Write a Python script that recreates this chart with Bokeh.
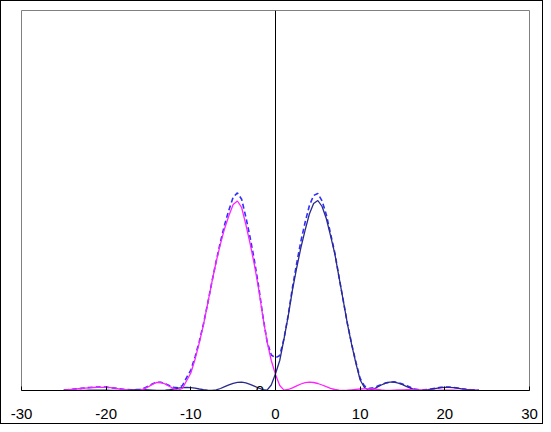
import numpy as np
from bokeh.plotting import figure
from bokeh.models import Range1d, Span, Label, FixedTicker, ColumnDataSource, InlineStyleSheet
from bokeh.embed import file_html
from bokeh.resources import INLINE

# sample positions
x_vals = np.arange(-25, 24.01, 0.5)

# left-shifted component (magenta)
left_wave = [
    0.5, 0.8, 1.2, 1.6, 2.0, 2.4, 2.7, 3.0, 3.1, 3.2,
    3.1, 2.8, 2.3, 1.7, 1.1, 0.6, 0.2, 0.1, 0.4, 1.6,
    3.8, 6.4, 8.2, 8.0, 6.4, 4.0, 1.8, 0.4, 2.0, 9.8,
    17.5, 31.3, 47.6, 66.1, 87.2, 109, 129, 146.7, 162.3, 175,
    186, 189.5, 183, 165.8, 147, 126, 102, 74, 49, 30,
    16, 5, 0.4, 1.0, 2.6, 4.6, 6.5, 7.8, 8.3, 8.0,
    7.0, 5.5, 3.8, 2.2, 1.0, 0.3, 0.1, 0.3, 0.7, 1.1,
    1.5, 1.7, 1.7, 1.5, 1.1, 0.6, 0.2, 0.1, 0.3, 0.5,
    0.7, 0.8, 0.8, 0.7, 0.5, 0.3, 0.1, 0.1, 0.2, 0.3,
    0.4, 0.4, 0.3, 0.2, 0.1, 0.1, 0.1, 0.1, 0.1,
]

# right-shifted component (navy)
right_wave = [
    0.1, 0.1, 0.1, 0.1, 0.1, 0.2, 0.3, 0.4, 0.4, 0.4,
    0.3, 0.2, 0.1, 0.1, 0.2, 0.4, 0.6, 0.8, 0.9, 0.8,
    0.6, 0.4, 0.2, 0.1, 0.3, 0.8, 1.5, 2.3, 2.9, 3.1,
    2.9, 2.3, 1.5, 0.8, 0.3, 0.1, 0.6, 2.0, 3.8, 5.6,
    7.2, 8.1, 8.3, 7.6, 6.2, 4.4, 2.5, 0.9, 0.3, 5.5,
    16.7, 30, 51.4, 74.3, 100.3, 122.5, 142.9, 160.4, 176.5, 187,
    190, 184, 172, 154.8, 136.9, 113.4, 90, 66.4, 45.6, 27.2,
    10.5, 3, 0.3, 1.2, 3.2, 5.5, 7.3, 8.3, 8.3, 7.4,
    5.8, 3.9, 2.1, 0.8, 0.2, 0.3, 0.8, 1.5, 2.2, 2.8,
    3.1, 3.1, 2.8, 2.3, 1.7, 1.2, 0.8, 0.5, 0.3,
]

# total (dashed blue)
total_wave = [
    0.6, 0.9, 1.3, 1.7, 2.1, 2.6, 3.0, 3.4, 3.5, 3.6,
    3.4, 3.0, 2.4, 1.8, 1.3, 1.0, 0.8, 0.9, 1.3, 2.4,
    4.4, 6.8, 8.4, 8.1, 6.7, 4.8, 3.3, 2.7, 4.9, 12.9,
    20.4, 33.6, 49.1, 66.9, 87.5, 109.1, 129.6, 148.7, 166.1, 180.6,
    193.2, 197.6, 191.3, 173.4, 153.2, 130.4, 104.5, 74.9, 49.3, 35.5,
    32.7, 35, 51.8, 75.3, 102.9, 127.1, 149.4, 168.2, 184.8, 195,
    197, 189.5, 175.8, 157, 137.9, 113.7, 90.1, 66.7, 46.3, 28.3,
    12, 4.7, 2.0, 2.7, 4.3, 6.1, 7.5, 8.4, 8.6, 7.9,
    6.5, 4.7, 2.9, 1.5, 0.7, 0.6, 0.9, 1.6, 2.4, 3.1,
    3.5, 3.5, 3.1, 2.5, 1.8, 1.3, 0.9, 0.6, 0.4,
]

x_ticks = [-30, -20, -10, 0, 10, 20, 30]
x_tick_labels = ["-30", "-20", "-10", "0", "10", "20", "30"]
origin_label = "0"
origin_label_x = -1.85

src = ColumnDataSource(dict(x=list(x_vals), left=left_wave, right=right_wave, total=total_wave))

FW, FH = 508, 380
BL, BR, BT, BB = 21, 14, 10, 34

p = figure(frame_width=FW, frame_height=FH,
           x_range=Range1d(-30, 30), y_range=Range1d(0, 380),
           output_backend="svg", toolbar_location=None,
           y_axis_location=None,
           min_border_left=BL, min_border_right=BR, min_border_top=BT, min_border_bottom=BB)

p.background_fill_color = "white"
p.border_fill_color = "white"
p.outline_line_color = "#808080"
p.outline_line_width = 1
p.grid.visible = False

# thin black border around the whole figure
p.stylesheets = [InlineStyleSheet(css=(
    ":host { position: relative; }"
    ":host::after { content: ''; position: absolute; left: 0; top: 0; right: 0; bottom: 0;"
    " border: 1px solid black; box-sizing: border-box; pointer-events: none; z-index: 1000; }"
))]

ax = p.xaxis[0]
ax.ticker = FixedTicker(ticks=x_ticks)
ax.major_label_overrides = {t: s for t, s in zip(x_ticks, x_tick_labels)}
ax.axis_line_color = "black"
ax.axis_line_width = 1
ax.major_tick_in = 4
ax.major_tick_out = 0
ax.major_tick_line_color = "black"
ax.minor_tick_line_color = None
ax.major_label_text_font = "Liberation Sans"
ax.major_label_text_font_size = "15px"
ax.major_label_text_color = "black"
ax.major_label_standoff = 18

p.add_layout(Span(location=0, dimension="height", line_color="black", line_width=1))

p.line("x", "total", source=src, line_color="#2f2fff", line_width=1.6, line_dash="5 3")
p.line("x", "right", source=src, line_color="#2a2a8a", line_width=1.3)
p.line("x", "left", source=src, line_color="#ff22ff", line_width=1.3)

p.add_layout(Label(x=origin_label_x, y=0, text=origin_label, text_align="center",
                   text_baseline="middle", text_font="Liberation Sans",
                   text_font_size="15px", text_color="black"))

open("out.html", "w").write(file_html(p, INLINE))
